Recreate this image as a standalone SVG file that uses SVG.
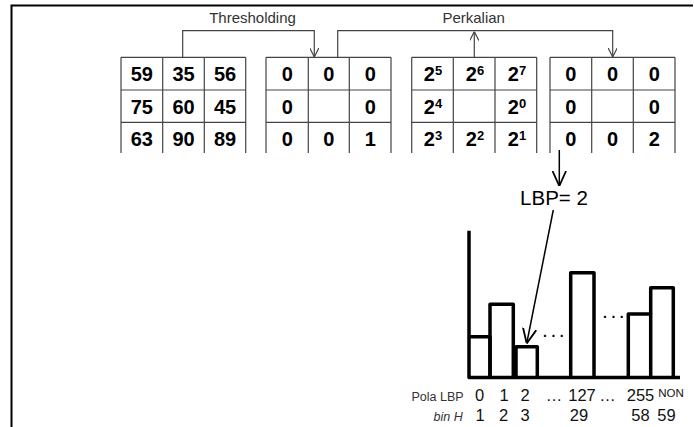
<svg xmlns="http://www.w3.org/2000/svg" width="694" height="427" viewBox="0 0 694 427">
<defs>
<style>
.frame{stroke:#000;stroke-width:2;fill:none}
.grid{stroke:#444;stroke-width:1.2;fill:none}
.cell{font-family:"Liberation Sans",Arial,sans-serif;font-size:20px;font-weight:bold;fill:#000;text-anchor:middle}
.sup{font-size:13px}
.conn{stroke:#444;stroke-width:1.2;fill:none}
.big{stroke:#000;stroke-width:1.5;fill:none}
.lbl{font-family:"Liberation Sans",Arial,sans-serif;font-size:15px;fill:#333;text-anchor:middle}
.bar{stroke:#000;stroke-width:3.5;fill:none;stroke-linejoin:round}
.ax{font-family:"Liberation Sans",Arial,sans-serif;font-size:16.5px;fill:#111;text-anchor:middle}
.sm{font-family:"Liberation Sans",Arial,sans-serif;font-size:12.5px;fill:#333}
</style>
<marker id="a1" viewBox="0 0 10 10" refX="10" refY="5" markerWidth="9" markerHeight="9" markerUnits="userSpaceOnUse" orient="auto">
<path d="M0,0 L10,5 L0,10" fill="none" stroke="#444" stroke-width="1.3"/>
</marker>
<marker id="a2" viewBox="0 0 10 10" refX="10" refY="5" markerWidth="15" markerHeight="15" markerUnits="userSpaceOnUse" orient="auto">
<path d="M0,0.5 L10,5 L0,9.5" fill="none" stroke="#000" stroke-width="1.2"/>
</marker>
</defs>
<rect width="694" height="427" fill="#fff"/>
<path class="frame" d="M11.5,427 V5.5 H693"/>

<g id="grid-input">
<path class="grid" d="M121,57.3 H245.7 M121,90 H245.7 M121,122.3 H245.7 M121,57.3 V153 M162.7,57.3 V153 M204.3,57.3 V153 M245.7,57.3 V153"/>
<text class="cell" x="141.8" y="81">59</text><text class="cell" x="183.5" y="81">35</text><text class="cell" x="225" y="81">56</text>
<text class="cell" x="141.8" y="114">75</text><text class="cell" x="183.5" y="114">60</text><text class="cell" x="225" y="114">45</text>
<text class="cell" x="141.8" y="146">63</text><text class="cell" x="183.5" y="146">90</text><text class="cell" x="225" y="146">89</text>
</g>

<g id="grid-threshold">
<path class="grid" d="M266,57.3 H391 M266,90 H391 M266,122.3 H391 M266,57.3 V153 M308.3,57.3 V153 M349.3,57.3 V153 M391,57.3 V153"/>
<text class="cell" x="287.2" y="81">0</text><text class="cell" x="328.8" y="81">0</text><text class="cell" x="370.2" y="81">0</text>
<text class="cell" x="287.2" y="114">0</text><text class="cell" x="370.2" y="114">0</text>
<text class="cell" x="287.2" y="146">0</text><text class="cell" x="328.8" y="146">0</text><text class="cell" x="370.2" y="146">1</text>
</g>

<g id="grid-weights">
<path class="grid" d="M411.7,57.3 H536.7 M411.7,90 H536.7 M411.7,122.3 H536.7 M411.7,57.3 V153 M453.3,57.3 V153 M495,57.3 V153 M536.7,57.3 V153"/>
<text class="cell" x="433" y="81">2<tspan class="sup" dy="-6.5">5</tspan></text>
<text class="cell" x="475" y="81">2<tspan class="sup" dy="-6.5">6</tspan></text>
<text class="cell" x="517" y="81">2<tspan class="sup" dy="-6.5">7</tspan></text>
<text class="cell" x="433" y="114">2<tspan class="sup" dy="-6.5">4</tspan></text>
<text class="cell" x="517" y="114">2<tspan class="sup" dy="-6.5">0</tspan></text>
<text class="cell" x="433" y="146">2<tspan class="sup" dy="-6.5">3</tspan></text>
<text class="cell" x="475" y="146">2<tspan class="sup" dy="-6.5">2</tspan></text>
<text class="cell" x="517" y="146">2<tspan class="sup" dy="-6.5">1</tspan></text>
</g>

<g id="grid-result">
<path class="grid" d="M550,57.3 H675 M550,90 H675 M550,122.3 H675 M550,57.3 V153 M591.7,57.3 V153 M633.3,57.3 V153 M675,57.3 V153"/>
<text class="cell" x="570.8" y="81">0</text><text class="cell" x="612.5" y="81">0</text><text class="cell" x="654.2" y="81">0</text>
<text class="cell" x="570.8" y="114">0</text><text class="cell" x="654.2" y="114">0</text>
<text class="cell" x="570.8" y="146">0</text><text class="cell" x="612.5" y="146">0</text><text class="cell" x="654.2" y="146">2</text>
</g>

<g id="labels">
<text class="lbl" x="252.5" y="22.5">Thresholding</text>
<text class="lbl" x="473.7" y="22.5">Perkalian</text>
<text class="lbl" x="554" y="205" style="font-size:20.5px;fill:#000">LBP= 2</text>
</g>

<g id="connectors">
<path class="conn" d="M182.7,57.3 V30.7 H314.3 V57" marker-end="url(#a1)"/>
<path class="conn" d="M337.7,57.3 V30.7 H612.7 V57" marker-end="url(#a1)"/>
<path class="conn" d="M474.3,57.3 V31.5" marker-end="url(#a1)"/>
<path class="big" d="M559.3,150 V186" marker-end="url(#a2)"/>
<path class="big" d="M553.3,210 L526.7,343.5" marker-end="url(#a2)"/>
</g>

<g id="histogram">
<path class="bar" d="M469,230.7 V377.5 H680"/>
<path class="bar" d="M469,336.7 H490 V377.5"/>
<path class="bar" d="M490,377.5 V304.3 H513.3 V377.5"/>
<path class="bar" d="M516,377.5 V346.7 H537.3 V377.5"/>
<path class="bar" d="M570.7,377.5 V272.7 H594 V377.5"/>
<path class="bar" d="M628.3,377.5 V314 H650.7 V377.5"/>
<path class="bar" d="M650.7,314 V287.7 H673.3 V377.5"/>
<text x="543" y="337" style="font-family:'Liberation Sans',Arial,sans-serif;font-size:14px;font-weight:bold;letter-spacing:4.5px;fill:#000">...</text>
<text x="603" y="318" style="font-family:'Liberation Sans',Arial,sans-serif;font-size:14px;font-weight:bold;letter-spacing:4.5px;fill:#000">...</text>
</g>

<g id="axis-labels">
<text class="sm" x="411.5" y="400.5">Pola LBP</text>
<text class="ax" x="479.5" y="400.5">0</text>
<text class="ax" x="504" y="400.5">1</text>
<text class="ax" x="525" y="400.5">2</text>
<text class="ax" x="554" y="400.5">…</text>
<text class="ax" x="582" y="400.5">127</text>
<text class="ax" x="607.5" y="400.5">…</text>
<text class="ax" x="640.5" y="400.5">255</text>
<text class="ax" x="671" y="397" style="font-size:11.5px">NON</text>
<text class="sm" x="433.5" y="421" style="font-style:italic">bin H</text>
<text class="ax" x="480" y="421">1</text>
<text class="ax" x="503.5" y="421">2</text>
<text class="ax" x="525" y="421">3</text>
<text class="ax" x="579" y="421">29</text>
<text class="ax" x="640.5" y="421">58</text>
<text class="ax" x="666.5" y="421">59</text>
</g>
</svg>
